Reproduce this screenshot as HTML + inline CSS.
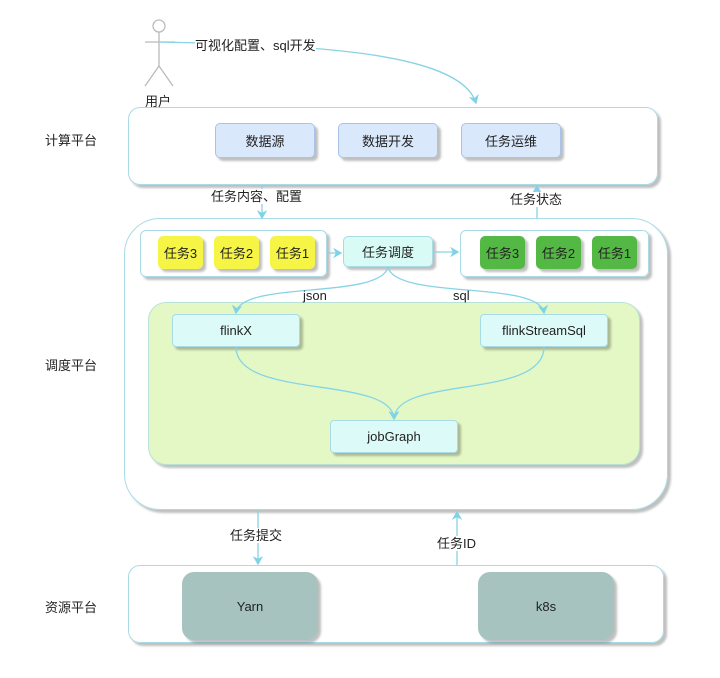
<!DOCTYPE html>
<html><head><meta charset="utf-8"><style>
body{margin:0;width:720px;height:678px;background:#fff;position:relative;overflow:hidden;font-family:"Liberation Sans","Noto Sans CJK SC",sans-serif;font-size:13px;color:#222}
.b{position:absolute;box-sizing:border-box;display:flex;align-items:center;justify-content:center}
.sh{box-shadow:3px 3px 2px rgba(0,0,0,.25)}
.t{position:absolute;white-space:nowrap;background:#fff;line-height:15px}
</style></head><body>
<div class="b sh" style="left:128px;top:107px;width:530px;height:78px;border:1.5px solid #a8dbe6;border-radius:12px"></div>
<div class="b sh" style="left:124px;top:218px;width:544px;height:292px;border:1.5px solid #a8dbe6;border-radius:36px"></div>
<div class="b sh" style="left:128px;top:565px;width:536px;height:78px;border:1.5px solid #a8dbe6;border-radius:12px"></div>

<div class="b sh" style="left:215px;top:123px;width:100px;height:35px;background:#dae8fc;border:1px solid #a9c3e8;border-radius:5px">数据源</div>
<div class="b sh" style="left:338px;top:123px;width:100px;height:35px;background:#dae8fc;border:1px solid #a9c3e8;border-radius:5px">数据开发</div>
<div class="b sh" style="left:461px;top:123px;width:100px;height:35px;background:#dae8fc;border:1px solid #a9c3e8;border-radius:5px">任务运维</div>

<div class="b sh" style="left:140px;top:230px;width:187px;height:47px;border:1px solid #a8dbe6;border-radius:6px"></div>
<div class="b sh" style="left:460px;top:230px;width:189px;height:47px;border:1px solid #a8dbe6;border-radius:6px"></div>
<div class="b sh" style="left:158px;top:236px;width:45px;height:33px;background:#f6f545;border-radius:5px">任务3</div>
<div class="b sh" style="left:214px;top:236px;width:45px;height:33px;background:#f6f545;border-radius:5px">任务2</div>
<div class="b sh" style="left:270px;top:236px;width:45px;height:33px;background:#f6f545;border-radius:5px">任务1</div>
<div class="b sh" style="left:343px;top:236px;width:90px;height:31px;background:#d9fbf6;border:1px solid #a8dbe6;border-radius:5px">任务调度</div>
<div class="b sh" style="left:480px;top:236px;width:45px;height:33px;background:#54b844;border-radius:5px">任务3</div>
<div class="b sh" style="left:536px;top:236px;width:45px;height:33px;background:#54b844;border-radius:5px">任务2</div>
<div class="b sh" style="left:592px;top:236px;width:45px;height:33px;background:#54b844;border-radius:5px">任务1</div>

<div class="b sh" style="left:148px;top:302px;width:492px;height:163px;background:#e4f8c6;border:1px solid #b8e2d8;border-radius:18px"></div>
<div class="b sh" style="left:172px;top:314px;width:128px;height:33px;background:#dcfbf8;border:1px solid #a8dbe6;border-radius:4px">flinkX</div>
<div class="b sh" style="left:480px;top:314px;width:128px;height:33px;background:#dcfbf8;border:1px solid #a8dbe6;border-radius:4px">flinkStreamSql</div>
<div class="b sh" style="left:330px;top:420px;width:128px;height:33px;background:#dcfbf8;border:1px solid #a8dbe6;border-radius:4px">jobGraph</div>

<div class="b sh" style="left:182px;top:572px;width:136px;height:68px;background:#a6c3c0;border-radius:12px">Yarn</div>
<div class="b sh" style="left:478px;top:572px;width:136px;height:68px;background:#a6c3c0;border-radius:12px">k8s</div>

<svg style="position:absolute;left:0;top:0" width="720" height="678">
<defs><marker id="a" markerWidth="8" markerHeight="8" refX="6" refY="4" orient="auto"><path d="M0,0L7,4L0,8L2,4z" fill="#7fd3e6"/></marker></defs>
<g fill="none" stroke="#86d4e6" stroke-width="1.3">
<circle cx="159" cy="26" r="6" stroke="#bbb"/>
<g stroke="#bbb"><path d="M159 32V66M145 42H175M159 66L145 86M159 66L173 86"/></g>
<path d="M160 42 C300 45 460 50 476 103" marker-end="url(#a)"/>
<path d="M262 185V218" marker-end="url(#a)"/>
<path d="M537 218V186" marker-end="url(#a)"/>
<path d="M327 253H341" marker-end="url(#a)"/>
<path d="M433 252H458" marker-end="url(#a)"/>
<path d="M388 267C380 300 240 280 236 313" marker-end="url(#a)"/>
<path d="M388 267C395 300 540 280 544 313" marker-end="url(#a)"/>
<path d="M236 347C236 400 393 375 394 419" marker-end="url(#a)"/>
<path d="M544 347C544 400 395 375 394 419" marker-end="url(#a)"/>
<path d="M258 510V564" marker-end="url(#a)"/>
<path d="M457 565V512" marker-end="url(#a)"/>
</g></svg>

<div class="t" style="left:195px;top:38px">可视化配置、sql开发</div>
<div class="t" style="left:145px;top:94px;background:none">用户</div>
<div class="t" style="left:211px;top:189px">任务内容、配置</div>
<div class="t" style="left:510px;top:192px">任务状态</div>
<div class="t" style="left:303px;top:288px;background:none">json</div>
<div class="t" style="left:453px;top:288px;background:none">sql</div>
<div class="t" style="left:230px;top:528px">任务提交</div>
<div class="t" style="left:437px;top:536px">任务ID</div>
<div class="t" style="left:45px;top:133px">计算平台</div>
<div class="t" style="left:45px;top:358px">调度平台</div>
<div class="t" style="left:45px;top:600px">资源平台</div>
</body></html>
